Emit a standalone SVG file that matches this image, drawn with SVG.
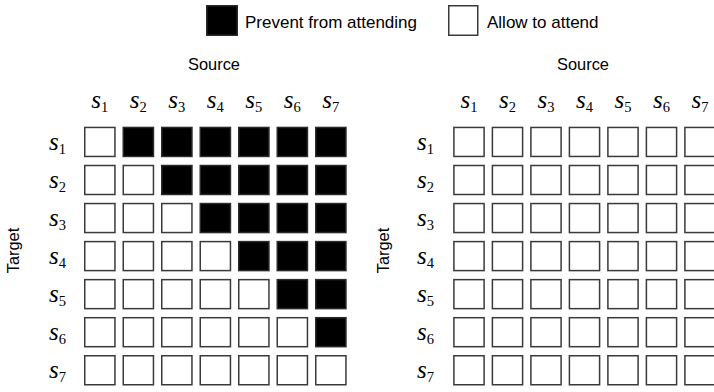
<svg xmlns="http://www.w3.org/2000/svg" width="714" height="392" viewBox="0 0 714 392">
<style>
.c{fill:#fff;stroke:#3a3a3a;stroke-width:1.5}
.b{fill:#000;stroke:#2a2a2a;stroke-width:1.5}
.t{font-family:"Liberation Sans",Arial,sans-serif;font-size:16.4px;fill:#000}
.lg{font-family:"Liberation Sans",Arial,sans-serif;font-size:17px;fill:#000}
.s{font-family:"Liberation Serif","DejaVu Serif",serif;font-style:italic;font-size:25px;fill:#000}
.d{font-style:normal;font-size:14.5px}
</style>
<rect width="714" height="392" fill="#fff"/>
<g id="legend">
<rect class="b" x="206.75" y="5.75" width="30.5" height="29.5"/>
<text class="lg" x="245" y="28">Prevent from attending</text>
<rect class="c" x="448.75" y="5.75" width="29" height="29.5"/>
<text class="lg" x="487" y="28">Allow to attend</text>
</g>
<g id="left-matrix">
<text class="t" x="214" y="70" text-anchor="middle">Source</text>
<text class="t" transform="translate(19,250.5) rotate(-90)" text-anchor="middle">Target</text>
<g id="left-col-labels" text-anchor="middle">
<text class="s" x="99.85" y="108">s<tspan class="d" dy="4">1</tspan></text>
<text class="s" x="138.35" y="108">s<tspan class="d" dy="4">2</tspan></text>
<text class="s" x="176.85" y="108">s<tspan class="d" dy="4">3</tspan></text>
<text class="s" x="215.35" y="108">s<tspan class="d" dy="4">4</tspan></text>
<text class="s" x="253.85" y="108">s<tspan class="d" dy="4">5</tspan></text>
<text class="s" x="292.35" y="108">s<tspan class="d" dy="4">6</tspan></text>
<text class="s" x="330.85" y="108">s<tspan class="d" dy="4">7</tspan></text>
</g>
<g id="left-row-labels">
<text class="s" x="49" y="150">s<tspan class="d" dy="4">1</tspan></text>
<text class="s" x="49" y="188.05">s<tspan class="d" dy="4">2</tspan></text>
<text class="s" x="49" y="226.1">s<tspan class="d" dy="4">3</tspan></text>
<text class="s" x="49" y="264.15">s<tspan class="d" dy="4">4</tspan></text>
<text class="s" x="49" y="302.2">s<tspan class="d" dy="4">5</tspan></text>
<text class="s" x="49" y="340.25">s<tspan class="d" dy="4">6</tspan></text>
<text class="s" x="49" y="378.3">s<tspan class="d" dy="4">7</tspan></text>
</g>
<g id="left-cells">
<rect class="c" x="84.75" y="127.45" width="30.2" height="29"/>
<rect class="b" x="123.25" y="127.45" width="30.2" height="29"/>
<rect class="b" x="161.75" y="127.45" width="30.2" height="29"/>
<rect class="b" x="200.25" y="127.45" width="30.2" height="29"/>
<rect class="b" x="238.75" y="127.45" width="30.2" height="29"/>
<rect class="b" x="277.25" y="127.45" width="30.2" height="29"/>
<rect class="b" x="315.75" y="127.45" width="30.2" height="29"/>

<rect class="c" x="84.75" y="165.5" width="30.2" height="29"/>
<rect class="c" x="123.25" y="165.5" width="30.2" height="29"/>
<rect class="b" x="161.75" y="165.5" width="30.2" height="29"/>
<rect class="b" x="200.25" y="165.5" width="30.2" height="29"/>
<rect class="b" x="238.75" y="165.5" width="30.2" height="29"/>
<rect class="b" x="277.25" y="165.5" width="30.2" height="29"/>
<rect class="b" x="315.75" y="165.5" width="30.2" height="29"/>

<rect class="c" x="84.75" y="203.55" width="30.2" height="29"/>
<rect class="c" x="123.25" y="203.55" width="30.2" height="29"/>
<rect class="c" x="161.75" y="203.55" width="30.2" height="29"/>
<rect class="b" x="200.25" y="203.55" width="30.2" height="29"/>
<rect class="b" x="238.75" y="203.55" width="30.2" height="29"/>
<rect class="b" x="277.25" y="203.55" width="30.2" height="29"/>
<rect class="b" x="315.75" y="203.55" width="30.2" height="29"/>

<rect class="c" x="84.75" y="241.6" width="30.2" height="29"/>
<rect class="c" x="123.25" y="241.6" width="30.2" height="29"/>
<rect class="c" x="161.75" y="241.6" width="30.2" height="29"/>
<rect class="c" x="200.25" y="241.6" width="30.2" height="29"/>
<rect class="b" x="238.75" y="241.6" width="30.2" height="29"/>
<rect class="b" x="277.25" y="241.6" width="30.2" height="29"/>
<rect class="b" x="315.75" y="241.6" width="30.2" height="29"/>

<rect class="c" x="84.75" y="279.65" width="30.2" height="29"/>
<rect class="c" x="123.25" y="279.65" width="30.2" height="29"/>
<rect class="c" x="161.75" y="279.65" width="30.2" height="29"/>
<rect class="c" x="200.25" y="279.65" width="30.2" height="29"/>
<rect class="c" x="238.75" y="279.65" width="30.2" height="29"/>
<rect class="b" x="277.25" y="279.65" width="30.2" height="29"/>
<rect class="b" x="315.75" y="279.65" width="30.2" height="29"/>

<rect class="c" x="84.75" y="317.7" width="30.2" height="29"/>
<rect class="c" x="123.25" y="317.7" width="30.2" height="29"/>
<rect class="c" x="161.75" y="317.7" width="30.2" height="29"/>
<rect class="c" x="200.25" y="317.7" width="30.2" height="29"/>
<rect class="c" x="238.75" y="317.7" width="30.2" height="29"/>
<rect class="c" x="277.25" y="317.7" width="30.2" height="29"/>
<rect class="b" x="315.75" y="317.7" width="30.2" height="29"/>

<rect class="c" x="84.75" y="355.75" width="30.2" height="29"/>
<rect class="c" x="123.25" y="355.75" width="30.2" height="29"/>
<rect class="c" x="161.75" y="355.75" width="30.2" height="29"/>
<rect class="c" x="200.25" y="355.75" width="30.2" height="29"/>
<rect class="c" x="238.75" y="355.75" width="30.2" height="29"/>
<rect class="c" x="277.25" y="355.75" width="30.2" height="29"/>
<rect class="c" x="315.75" y="355.75" width="30.2" height="29"/>
</g>
</g>
<g id="right-matrix">
<text class="t" x="583" y="70" text-anchor="middle">Source</text>
<text class="t" transform="translate(389,250.5) rotate(-90)" text-anchor="middle">Target</text>
<g id="right-col-labels" text-anchor="middle">
<text class="s" x="469" y="108">s<tspan class="d" dy="4">1</tspan></text>
<text class="s" x="507.5" y="108">s<tspan class="d" dy="4">2</tspan></text>
<text class="s" x="546" y="108">s<tspan class="d" dy="4">3</tspan></text>
<text class="s" x="584.5" y="108">s<tspan class="d" dy="4">4</tspan></text>
<text class="s" x="623" y="108">s<tspan class="d" dy="4">5</tspan></text>
<text class="s" x="661.5" y="108">s<tspan class="d" dy="4">6</tspan></text>
<text class="s" x="700" y="108">s<tspan class="d" dy="4">7</tspan></text>
</g>
<g id="right-row-labels">
<text class="s" x="417" y="150">s<tspan class="d" dy="4">1</tspan></text>
<text class="s" x="417" y="188.05">s<tspan class="d" dy="4">2</tspan></text>
<text class="s" x="417" y="226.1">s<tspan class="d" dy="4">3</tspan></text>
<text class="s" x="417" y="264.15">s<tspan class="d" dy="4">4</tspan></text>
<text class="s" x="417" y="302.2">s<tspan class="d" dy="4">5</tspan></text>
<text class="s" x="417" y="340.25">s<tspan class="d" dy="4">6</tspan></text>
<text class="s" x="417" y="378.3">s<tspan class="d" dy="4">7</tspan></text>
</g>
<g id="right-cells">
<rect class="c" x="453.9" y="127.45" width="30.2" height="29"/>
<rect class="c" x="492.4" y="127.45" width="30.2" height="29"/>
<rect class="c" x="530.9" y="127.45" width="30.2" height="29"/>
<rect class="c" x="569.4" y="127.45" width="30.2" height="29"/>
<rect class="c" x="607.9" y="127.45" width="30.2" height="29"/>
<rect class="c" x="646.4" y="127.45" width="30.2" height="29"/>
<rect class="c" x="684.9" y="127.45" width="30.2" height="29"/>

<rect class="c" x="453.9" y="165.5" width="30.2" height="29"/>
<rect class="c" x="492.4" y="165.5" width="30.2" height="29"/>
<rect class="c" x="530.9" y="165.5" width="30.2" height="29"/>
<rect class="c" x="569.4" y="165.5" width="30.2" height="29"/>
<rect class="c" x="607.9" y="165.5" width="30.2" height="29"/>
<rect class="c" x="646.4" y="165.5" width="30.2" height="29"/>
<rect class="c" x="684.9" y="165.5" width="30.2" height="29"/>

<rect class="c" x="453.9" y="203.55" width="30.2" height="29"/>
<rect class="c" x="492.4" y="203.55" width="30.2" height="29"/>
<rect class="c" x="530.9" y="203.55" width="30.2" height="29"/>
<rect class="c" x="569.4" y="203.55" width="30.2" height="29"/>
<rect class="c" x="607.9" y="203.55" width="30.2" height="29"/>
<rect class="c" x="646.4" y="203.55" width="30.2" height="29"/>
<rect class="c" x="684.9" y="203.55" width="30.2" height="29"/>

<rect class="c" x="453.9" y="241.6" width="30.2" height="29"/>
<rect class="c" x="492.4" y="241.6" width="30.2" height="29"/>
<rect class="c" x="530.9" y="241.6" width="30.2" height="29"/>
<rect class="c" x="569.4" y="241.6" width="30.2" height="29"/>
<rect class="c" x="607.9" y="241.6" width="30.2" height="29"/>
<rect class="c" x="646.4" y="241.6" width="30.2" height="29"/>
<rect class="c" x="684.9" y="241.6" width="30.2" height="29"/>

<rect class="c" x="453.9" y="279.65" width="30.2" height="29"/>
<rect class="c" x="492.4" y="279.65" width="30.2" height="29"/>
<rect class="c" x="530.9" y="279.65" width="30.2" height="29"/>
<rect class="c" x="569.4" y="279.65" width="30.2" height="29"/>
<rect class="c" x="607.9" y="279.65" width="30.2" height="29"/>
<rect class="c" x="646.4" y="279.65" width="30.2" height="29"/>
<rect class="c" x="684.9" y="279.65" width="30.2" height="29"/>

<rect class="c" x="453.9" y="317.7" width="30.2" height="29"/>
<rect class="c" x="492.4" y="317.7" width="30.2" height="29"/>
<rect class="c" x="530.9" y="317.7" width="30.2" height="29"/>
<rect class="c" x="569.4" y="317.7" width="30.2" height="29"/>
<rect class="c" x="607.9" y="317.7" width="30.2" height="29"/>
<rect class="c" x="646.4" y="317.7" width="30.2" height="29"/>
<rect class="c" x="684.9" y="317.7" width="30.2" height="29"/>

<rect class="c" x="453.9" y="355.75" width="30.2" height="29"/>
<rect class="c" x="492.4" y="355.75" width="30.2" height="29"/>
<rect class="c" x="530.9" y="355.75" width="30.2" height="29"/>
<rect class="c" x="569.4" y="355.75" width="30.2" height="29"/>
<rect class="c" x="607.9" y="355.75" width="30.2" height="29"/>
<rect class="c" x="646.4" y="355.75" width="30.2" height="29"/>
<rect class="c" x="684.9" y="355.75" width="30.2" height="29"/>
</g>
</g>
</svg>
